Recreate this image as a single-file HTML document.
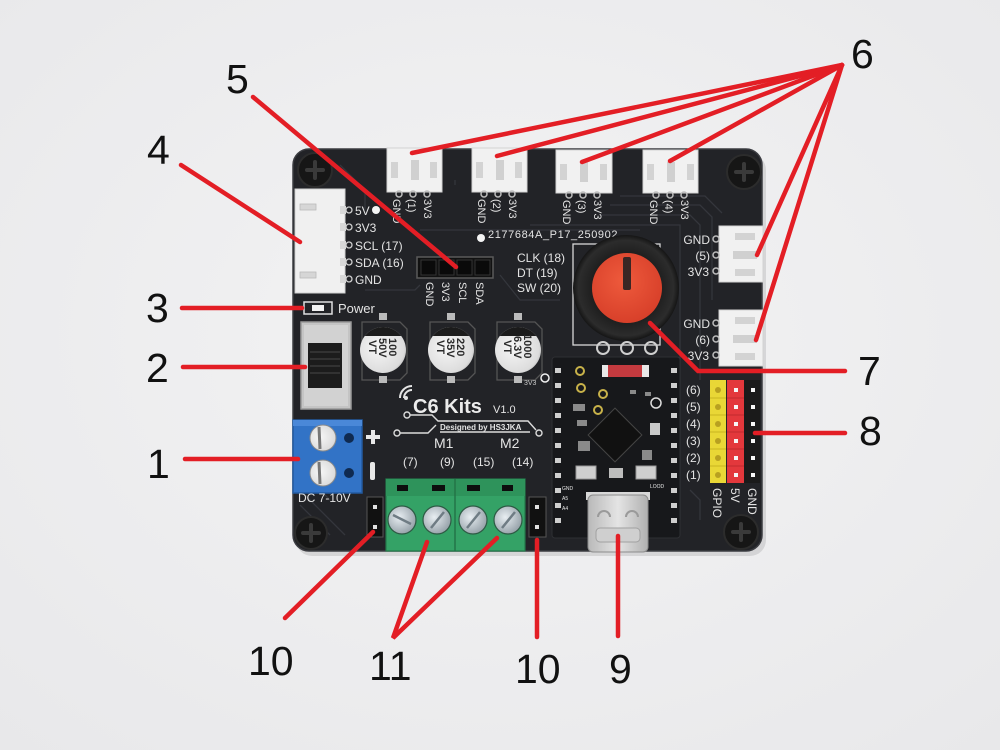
<!DOCTYPE html>
<html><head><meta charset="utf-8">
<style>
html,body{margin:0;padding:0;background:#efeff0;}
svg{display:block}
text{font-family:"Liberation Sans",sans-serif;}
</style></head><body>
<svg width="1000" height="750" viewBox="0 0 1000 750" xmlns="http://www.w3.org/2000/svg">
<defs>
<radialGradient id="bg" cx="0.5" cy="0.45" r="0.75"><stop offset="0" stop-color="#f3f3f4"/><stop offset="1" stop-color="#e8e8ea"/></radialGradient>
<radialGradient id="silver" cx="0.4" cy="0.45" r="0.7"><stop offset="0" stop-color="#f6f6f6"/><stop offset="0.8" stop-color="#dcdcdc"/><stop offset="1" stop-color="#a8a8a8"/></radialGradient>
<radialGradient id="scrw" cx="0.4" cy="0.4" r="0.7"><stop offset="0" stop-color="#e8eef2"/><stop offset="1" stop-color="#8c98a0"/></radialGradient>
<radialGradient id="knob" cx="0.5" cy="0.5" r="0.5"><stop offset="0.6" stop-color="#1c1c1c"/><stop offset="0.9" stop-color="#2c2c2c"/><stop offset="1" stop-color="#151515"/></radialGradient>
<radialGradient id="red" cx="0.45" cy="0.4" r="0.6"><stop offset="0" stop-color="#ee5a3c"/><stop offset="1" stop-color="#d8402a"/></radialGradient>
<linearGradient id="usb" x1="0" x2="1"><stop offset="0" stop-color="#b9b9b9"/><stop offset="0.5" stop-color="#e4e4e4"/><stop offset="1" stop-color="#b0b0b0"/></linearGradient>
<clipPath id="c1"><circle cx="383" cy="350" r="23"/></clipPath>
<clipPath id="c2"><circle cx="451" cy="350" r="23"/></clipPath>
<clipPath id="c3"><circle cx="518" cy="350" r="23"/></clipPath>
</defs>
<rect width="1000" height="750" fill="url(#bg)"/>

<!-- board shadow + board -->
<rect x="296" y="154" width="470" height="402" rx="16" fill="#000" opacity="0.10"/>
<rect x="293" y="149" width="469" height="402" rx="16" fill="#222327" stroke="#3b3c41" stroke-width="1.5"/>

<!-- traces -->
<g stroke="#34363c" stroke-width="1.3" fill="none">
<path d="M340 165 L365 190 L365 210"/>
<path d="M455 185 L455 180 M530 225 L680 225 L680 520"/>
<path d="M600 215 L690 215 L700 225 L700 380"/>
<path d="M610 205 L700 205 L712 217 L712 300"/>
<path d="M620 196 L705 196 L722 213"/>
<path d="M420 230 L640 230"/>
<path d="M365 290 L415 290 L420 285"/>
<path d="M500 275 L520 300 L560 300"/>
<path d="M300 470 L330 500 M300 490 L345 535 M300 505 L330 535"/>
<path d="M690 490 L700 500 L700 520"/>
</g>

<!-- corner screws -->
<g>
<circle cx="315" cy="170" r="17" fill="#161616" stroke="#2c2c2c" stroke-width="2"/>
<circle cx="744" cy="172" r="17" fill="#161616" stroke="#2c2c2c" stroke-width="2"/>
<circle cx="311" cy="533" r="16" fill="#161616" stroke="#2c2c2c" stroke-width="2"/>
<circle cx="741" cy="532" r="17" fill="#161616" stroke="#2c2c2c" stroke-width="2"/>
<g stroke="#3a3a3a" stroke-width="4" stroke-linecap="round">
<path d="M307 170 h16 M315 162 v16"/>
<path d="M736 172 h16 M744 164 v16"/>
<path d="M303 533 h16 M311 525 v16"/>
<path d="M733 532 h16 M741 524 v16"/>
</g>
</g>

<!-- top JST connectors -->
<g>
<rect x="387" y="148" width="55" height="44" fill="#f1f1f1" stroke="#d2d2d2"/>
<rect x="391" y="162" width="7" height="16" fill="#d3d3d3"/><rect x="411" y="160" width="8" height="20" fill="#d0d0d0"/><rect x="430" y="162" width="7" height="16" fill="#d3d3d3"/>
<rect x="472" y="148" width="55" height="44" fill="#f1f1f1" stroke="#d2d2d2"/>
<rect x="476" y="162" width="7" height="16" fill="#d3d3d3"/><rect x="496" y="160" width="8" height="20" fill="#d0d0d0"/><rect x="515" y="162" width="7" height="16" fill="#d3d3d3"/>
<rect x="556" y="150" width="56" height="43" fill="#f1f1f1" stroke="#d2d2d2"/>
<rect x="560" y="164" width="7" height="16" fill="#d3d3d3"/><rect x="580" y="162" width="8" height="20" fill="#d0d0d0"/><rect x="600" y="164" width="7" height="16" fill="#d3d3d3"/>
<rect x="643" y="150" width="55" height="43" fill="#f1f1f1" stroke="#d2d2d2"/>
<rect x="647" y="164" width="7" height="16" fill="#d3d3d3"/><rect x="667" y="162" width="8" height="20" fill="#d0d0d0"/><rect x="687" y="164" width="7" height="16" fill="#d3d3d3"/>
<g fill="none" stroke="#bdbdbd" stroke-width="1.5">
<circle cx="399" cy="194" r="3"/><circle cx="413" cy="194" r="3"/><circle cx="427" cy="194" r="3"/>
<circle cx="484" cy="194" r="3"/><circle cx="498" cy="194" r="3"/><circle cx="512" cy="194" r="3"/>
<circle cx="569" cy="195" r="3"/><circle cx="583" cy="195" r="3"/><circle cx="597" cy="195" r="3"/>
<circle cx="656" cy="195" r="3"/><circle cx="670" cy="195" r="3"/><circle cx="684" cy="195" r="3"/>
</g>
</g>
<g fill="#e4e4e4" font-size="11">
<text transform="translate(393,199) rotate(90)">GND</text><text transform="translate(408,199) rotate(90)">(1)</text><text transform="translate(424,199) rotate(90)">3V3</text>
<text transform="translate(478,199) rotate(90)">GND</text><text transform="translate(493,199) rotate(90)">(2)</text><text transform="translate(509,199) rotate(90)">3V3</text>
<text transform="translate(563,200) rotate(90)">GND</text><text transform="translate(578,200) rotate(90)">(3)</text><text transform="translate(594,200) rotate(90)">3V3</text>
<text transform="translate(650,200) rotate(90)">GND</text><text transform="translate(665,200) rotate(90)">(4)</text><text transform="translate(681,200) rotate(90)">3V3</text>
</g>

<!-- right side connectors -->
<g>
<rect x="719" y="226" width="44" height="56" fill="#f1f1f1" stroke="#d2d2d2"/>
<rect x="735" y="233" width="20" height="7" fill="#d3d3d3"/><rect x="733" y="251" width="24" height="8" fill="#d0d0d0"/><rect x="735" y="269" width="20" height="7" fill="#d3d3d3"/>
<rect x="719" y="310" width="44" height="56" fill="#f1f1f1" stroke="#d2d2d2"/>
<rect x="735" y="317" width="20" height="7" fill="#d3d3d3"/><rect x="733" y="335" width="24" height="8" fill="#d0d0d0"/><rect x="735" y="353" width="20" height="7" fill="#d3d3d3"/>
<g fill="none" stroke="#bdbdbd" stroke-width="1.5">
<circle cx="716" cy="239" r="3"/><circle cx="716" cy="255" r="3"/><circle cx="716" cy="271" r="3"/>
<circle cx="716" cy="323" r="3"/><circle cx="716" cy="339" r="3"/><circle cx="716" cy="355" r="3"/>
</g>
</g>
<g fill="#e4e4e4" font-size="12" text-anchor="end">
<text x="710" y="244">GND</text><text x="710" y="260">(5)</text><text x="709" y="276">3V3</text>
<text x="710" y="328">GND</text><text x="710" y="344">(6)</text><text x="709" y="360">3V3</text>
</g>

<!-- left connector (4) -->
<rect x="295" y="189" width="50" height="104" fill="#f0f0f0" stroke="#d0d0d0"/>
<rect x="300" y="204" width="16" height="6" fill="#d6d6d6" stroke="#bbb" stroke-width="0.8"/>
<rect x="300" y="272" width="16" height="6" fill="#d6d6d6" stroke="#bbb" stroke-width="0.8"/>
<g fill="#d8d8d8"><rect x="340" y="206" width="6" height="8"/><rect x="340" y="223" width="6" height="8"/><rect x="340" y="241" width="6" height="8"/><rect x="340" y="258" width="6" height="8"/><rect x="340" y="275" width="6" height="8"/></g>
<g fill="none" stroke="#cfcfcf" stroke-width="1.3"><circle cx="349" cy="210" r="3"/><circle cx="349" cy="227" r="3"/><circle cx="349" cy="245" r="3"/><circle cx="349" cy="262" r="3"/><circle cx="349" cy="279" r="3"/></g>
<g fill="#e4e4e4" font-size="12">
<text x="355" y="215">5V</text><text x="355" y="232">3V3</text><text x="355" y="250">SCL (17)</text><text x="355" y="267">SDA (16)</text><text x="355" y="284">GND</text>
</g>
<circle cx="376" cy="210" r="4" fill="#f4f4f4"/>
<circle cx="481" cy="238" r="4" fill="#f4f4f4"/>
<circle cx="545" cy="378" r="4" fill="none" stroke="#f0f0f0" stroke-width="1.5"/>

<!-- header 5 -->
<rect x="417" y="257" width="76" height="21" fill="#111" stroke="#5a5a5a" stroke-width="1.5"/>
<g fill="#0a0a0a" stroke="#333"><rect x="421" y="260" width="15" height="15"/><rect x="439" y="260" width="15" height="15"/><rect x="457" y="260" width="15" height="15"/><rect x="475" y="260" width="15" height="15"/></g>
<g fill="#e4e4e4" font-size="11">
<text transform="translate(426,282) rotate(90)">GND</text><text transform="translate(442,282) rotate(90)">3V3</text><text transform="translate(459,282) rotate(90)">SCL</text><text transform="translate(476,282) rotate(90)">SDA</text>
</g>

<!-- encoder labels -->
<g fill="#e4e4e4" font-size="12">
<text x="517" y="262">CLK (18)</text><text x="517" y="277">DT (19)</text><text x="517" y="292">SW (20)</text>
<text x="488" y="238" font-size="11" letter-spacing="0.6">2177684A_P17_250902</text>
</g>

<!-- power LED -->
<rect x="304" y="302" width="28" height="12" fill="none" stroke="#e0e0e0" stroke-width="1.5"/>
<rect x="312" y="305" width="12" height="6" fill="#f2f2f2"/>
<text x="338" y="313" fill="#e4e4e4" font-size="13">Power</text>

<!-- switch -->
<rect x="301" y="322" width="50" height="87" fill="#c4c4c4" stroke="#9a9a9a" stroke-width="1.5"/>
<rect x="304" y="325" width="44" height="81" fill="#d2d2d2"/>
<rect x="308" y="343" width="34" height="45" fill="#1c1c1c"/>
<g stroke="#3a3a3a" stroke-width="1.5"><path d="M310 352 h30 M310 359 h30 M310 366 h30 M310 373 h30"/></g>

<!-- blue terminal -->
<rect x="293" y="420" width="69" height="73" fill="#3273c6" stroke="#225aa0" stroke-width="1.5"/>
<rect x="293" y="420" width="69" height="6" fill="#4a88d8"/>
<circle cx="323" cy="438" r="13" fill="url(#silver)" stroke="#8a8a8a"/>
<circle cx="323" cy="473" r="13" fill="url(#silver)" stroke="#8a8a8a"/>
<path d="M319 427 L320 449 M319 462 L320 484" stroke="#777" stroke-width="3"/>
<circle cx="349" cy="438" r="5" fill="#0f2a50"/><circle cx="349" cy="473" r="5" fill="#0f2a50"/>
<path d="M366 437 h14 M373 430 v14" stroke="#e8e8e8" stroke-width="4"/>
<rect x="370" y="462" width="5" height="18" rx="2" fill="#e8e8e8"/>
<text x="298" y="502" fill="#e4e4e4" font-size="12">DC 7-10V</text>

<!-- capacitors -->
<g fill="none" stroke="#555" stroke-width="1.3">
<path d="M362 322 h38 l7 7 v44 l-7 7 h-38 z"/>
<path d="M430 322 h38 l7 7 v44 l-7 7 h-38 z"/>
<path d="M497 322 h38 l7 7 v44 l-7 7 h-38 z"/>
</g>
<g fill="#bbb"><rect x="379" y="313" width="8" height="7"/><rect x="447" y="313" width="8" height="7"/><rect x="514" y="313" width="8" height="7"/>
<rect x="379" y="376" width="8" height="7"/><rect x="447" y="376" width="8" height="7"/><rect x="514" y="376" width="8" height="7"/></g>
<circle cx="383" cy="350" r="23" fill="url(#silver)"/>
<circle cx="451" cy="350" r="23" fill="url(#silver)"/>
<circle cx="518" cy="350" r="23" fill="url(#silver)"/>
<g fill="#1b1b1b">
<rect x="355" y="320" width="60" height="16" clip-path="url(#c1)"/>
<rect x="423" y="320" width="60" height="16" clip-path="url(#c2)"/>
<rect x="490" y="320" width="60" height="16" clip-path="url(#c3)"/>
</g>
<g fill="#2a2a2a" font-size="11" font-weight="bold">
<text transform="translate(389,338) rotate(90)">100</text><text transform="translate(379,338) rotate(90)">50V</text><text transform="translate(369,340) rotate(90)">VT</text>
<text transform="translate(457,338) rotate(90)">220</text><text transform="translate(447,338) rotate(90)">35V</text><text transform="translate(437,340) rotate(90)">VT</text>
<text transform="translate(524,334) rotate(90)">1000</text><text transform="translate(514,336) rotate(90)">6.3V</text><text transform="translate(504,340) rotate(90)">VT</text>
</g>
<text x="524" y="385" fill="#ccc" font-size="7">3V3</text>

<!-- logo -->
<g fill="none" stroke="#e4e4e4" stroke-width="2">
<path d="M404 398 a8 8 0 0 1 8 -8"/><path d="M400 398 a12 12 0 0 1 12 -12"/>
</g>
<circle cx="406" cy="398" r="2" fill="#e4e4e4"/>
<text x="413" y="413" fill="#ececec" font-size="20" font-weight="bold">C6 Kits</text>
<text x="493" y="413" fill="#e4e4e4" font-size="11">V1.0</text>
<g fill="none" stroke="#dcdcdc" stroke-width="1.4">
<circle cx="407" cy="415" r="3"/><circle cx="397" cy="433" r="3"/><circle cx="539" cy="433" r="3"/>
<path d="M410 415 H432 L438 421 H528 L536 430"/>
<path d="M400 433 H428 L436 425 M440 432 H530"/>
</g>
<text x="440" y="430" fill="#e4e4e4" font-size="8" font-weight="bold">Designed by HS3JKA</text>
<g fill="#e4e4e4" font-size="14">
<text x="434" y="448">M1</text><text x="500" y="448">M2</text>
</g>
<g fill="#e4e4e4" font-size="12">
<text x="403" y="466">(7)</text><text x="440" y="466">(9)</text><text x="473" y="466">(15)</text><text x="512" y="466">(14)</text>
</g>

<!-- green terminal -->
<rect x="386" y="479" width="139" height="72" fill="#34a266" stroke="#23794a" stroke-width="1.2"/>
<rect x="386" y="479" width="139" height="17" fill="#2e935b"/>
<line x1="455" y1="479" x2="455" y2="551" stroke="#237548" stroke-width="1.5"/>
<g fill="#0d0d0d"><rect x="397" y="485" width="11" height="6"/><rect x="432" y="485" width="13" height="6"/><rect x="467" y="485" width="13" height="6"/><rect x="502" y="485" width="11" height="6"/></g>
<g fill="url(#scrw)" stroke="#2d5a44" stroke-width="1.2">
<circle cx="402" cy="520" r="14"/><circle cx="437" cy="520" r="14"/><circle cx="473" cy="520" r="14"/><circle cx="508" cy="520" r="14"/>
</g>
<g stroke="#6f7c84" stroke-width="2.5"><path d="M393 515 L411 524 M431 528 L444 512 M467 528 L480 512 M502 528 L515 512"/></g>

<!-- 2-pin headers -->
<rect x="367" y="497" width="16" height="40" fill="#111" stroke="#555"/>
<rect x="529" y="497" width="17" height="40" fill="#111" stroke="#555"/>
<g fill="#e0e0e0"><rect x="373" y="505" width="4" height="4"/><rect x="373" y="525" width="4" height="4"/><rect x="535" y="505" width="4" height="4"/><rect x="535" y="525" width="4" height="4"/></g>

<!-- encoder -->
<rect x="573" y="244" width="87" height="101" fill="none" stroke="#d8d8d8" stroke-width="1.3"/>
<g fill="none" stroke="#cfcfcf" stroke-width="2"><circle cx="603" cy="348" r="6"/><circle cx="627" cy="348" r="6"/><circle cx="651" cy="348" r="6"/></g>
<circle cx="626" cy="288" r="53" fill="url(#knob)"/>
<circle cx="627" cy="288" r="35" fill="url(#red)"/>
<rect x="623" y="257" width="8" height="33" rx="2" fill="#3a2624"/>

<!-- ESP32 module -->
<rect x="552" y="357" width="128" height="181" rx="3" fill="#17181b" stroke="#2e2f33"/>
<g fill="#cfcfcf">
<rect x="555" y="368" width="6" height="5"/><rect x="555" y="383" width="6" height="5"/><rect x="555" y="398" width="6" height="5"/><rect x="555" y="413" width="6" height="5"/><rect x="555" y="428" width="6" height="5"/><rect x="555" y="443" width="6" height="5"/><rect x="555" y="458" width="6" height="5"/><rect x="555" y="473" width="6" height="5"/><rect x="555" y="488" width="6" height="5"/><rect x="555" y="503" width="6" height="5"/><rect x="555" y="518" width="6" height="5"/>
<rect x="671" y="368" width="6" height="5"/><rect x="671" y="383" width="6" height="5"/><rect x="671" y="398" width="6" height="5"/><rect x="671" y="413" width="6" height="5"/><rect x="671" y="428" width="6" height="5"/><rect x="671" y="443" width="6" height="5"/><rect x="671" y="458" width="6" height="5"/><rect x="671" y="473" width="6" height="5"/><rect x="671" y="488" width="6" height="5"/><rect x="671" y="503" width="6" height="5"/><rect x="671" y="518" width="6" height="5"/>
</g>
<rect x="602" y="365" width="47" height="12" fill="#e8e8e8"/>
<rect x="608" y="365" width="34" height="12" fill="#c43a3f"/>
<g fill="none" stroke="#c8b24a" stroke-width="2"><circle cx="580" cy="371" r="4"/><circle cx="581" cy="388" r="4"/><circle cx="603" cy="394" r="4"/><circle cx="598" cy="410" r="4"/></g>
<circle cx="656" cy="403" r="5" fill="none" stroke="#ddd" stroke-width="1.5"/>
<rect x="596" y="416" width="38" height="38" transform="rotate(45 615 435)" fill="#111" stroke="#444"/>
<rect x="650" y="423" width="10" height="12" fill="#c9c9c9"/>
<g fill="#8a8a8a"><rect x="573" y="404" width="12" height="7"/><rect x="577" y="420" width="10" height="6"/><rect x="578" y="441" width="12" height="10"/><rect x="642" y="450" width="10" height="10"/><rect x="630" y="390" width="6" height="4"/><rect x="645" y="392" width="6" height="4"/></g>
<rect x="576" y="466" width="20" height="13" fill="#cfcfcf" stroke="#999"/>
<rect x="636" y="466" width="20" height="13" fill="#cfcfcf" stroke="#999"/>
<rect x="609" y="468" width="14" height="10" fill="#bdbdbd"/>
<g fill="#e6e6e6" font-size="5"><text x="562" y="490">GND</text><text x="562" y="500">A5</text><text x="562" y="510">A4</text><text x="650" y="488">LOOD</text></g>

<!-- USB-C -->
<rect x="586" y="492" width="64" height="8" fill="#d8d8d8"/>
<rect x="588" y="495" width="60" height="57" rx="5" fill="url(#usb)" stroke="#8c8c8c"/>
<path d="M598 517 a6 6 0 0 1 12 0 M626 517 a6 6 0 0 1 12 0" fill="none" stroke="#9a9a9a" stroke-width="2"/>
<rect x="596" y="528" width="44" height="14" rx="4" fill="#cfcfcf" stroke="#a0a0a0"/>

<!-- pin headers 8 -->
<rect x="710" y="380" width="16" height="103" fill="#e9d736"/>
<rect x="727" y="380" width="17" height="103" fill="#e3383c"/>
<rect x="744" y="380" width="16" height="103" fill="#1a1a1a"/>
<g stroke="#c9b520" stroke-width="1"><path d="M710 398 h16 M710 415 h16 M710 432 h16 M710 449 h16 M710 466 h16"/></g>
<g stroke="#c02a2e" stroke-width="1"><path d="M727 398 h17 M727 415 h17 M727 432 h17 M727 449 h17 M727 466 h17"/></g>
<g fill="#b8a020"><circle cx="718" cy="390" r="3"/><circle cx="718" cy="407" r="3"/><circle cx="718" cy="424" r="3"/><circle cx="718" cy="441" r="3"/><circle cx="718" cy="458" r="3"/><circle cx="718" cy="475" r="3"/></g>
<g fill="#f6f6f6"><rect x="734" y="388" width="4" height="4"/><rect x="734" y="405" width="4" height="4"/><rect x="734" y="422" width="4" height="4"/><rect x="734" y="439" width="4" height="4"/><rect x="734" y="456" width="4" height="4"/><rect x="734" y="473" width="4" height="4"/>
<rect x="751" y="388" width="4" height="4"/><rect x="751" y="405" width="4" height="4"/><rect x="751" y="422" width="4" height="4"/><rect x="751" y="439" width="4" height="4"/><rect x="751" y="456" width="4" height="4"/><rect x="751" y="473" width="4" height="4"/></g>
<g fill="#e4e4e4" font-size="12">
<text x="686" y="394">(6)</text><text x="686" y="411">(5)</text><text x="686" y="428">(4)</text><text x="686" y="445">(3)</text><text x="686" y="462">(2)</text><text x="686" y="479">(1)</text>
<text transform="translate(713,488) rotate(90)">GPIO</text><text transform="translate(731,488) rotate(90)">5V</text><text transform="translate(748,488) rotate(90)">GND</text>
</g>

<!-- red callout lines -->
<g stroke="#e31e25" stroke-width="4.5" stroke-linecap="round" fill="none">
<path d="M185 459 H298"/>
<path d="M183 367 H305"/>
<path d="M182 308 H302"/>
<path d="M181 165 L300 242"/>
<path d="M253 97 L456 267"/>
<path d="M842 65 L412 153"/>
<path d="M842 65 L497 156"/>
<path d="M842 65 L582 162"/>
<path d="M842 65 L670 161"/>
<path d="M842 65 L757 255"/>
<path d="M842 65 L756 340"/>
<path d="M650 323 L698 371 H845"/>
<path d="M755 433 H845"/>
<path d="M618 536 V636"/>
<path d="M537 540 V637"/>
<path d="M373 532 L285 618"/>
<path d="M427 542 L393 638 L497 538"/>
</g>

<!-- labels -->
<g fill="#111" font-size="41">
<text x="147" y="478">1</text>
<text x="146" y="382">2</text>
<text x="146" y="322">3</text>
<text x="147" y="164">4</text>
<text x="226" y="93">5</text>
<text x="851" y="68">6</text>
<text x="858" y="385">7</text>
<text x="859" y="445">8</text>
<text x="609" y="683">9</text>
<text x="248" y="675">10</text>
<text x="369" y="680">11</text>
<text x="515" y="683">10</text>
</g>
</svg>
</body></html>
